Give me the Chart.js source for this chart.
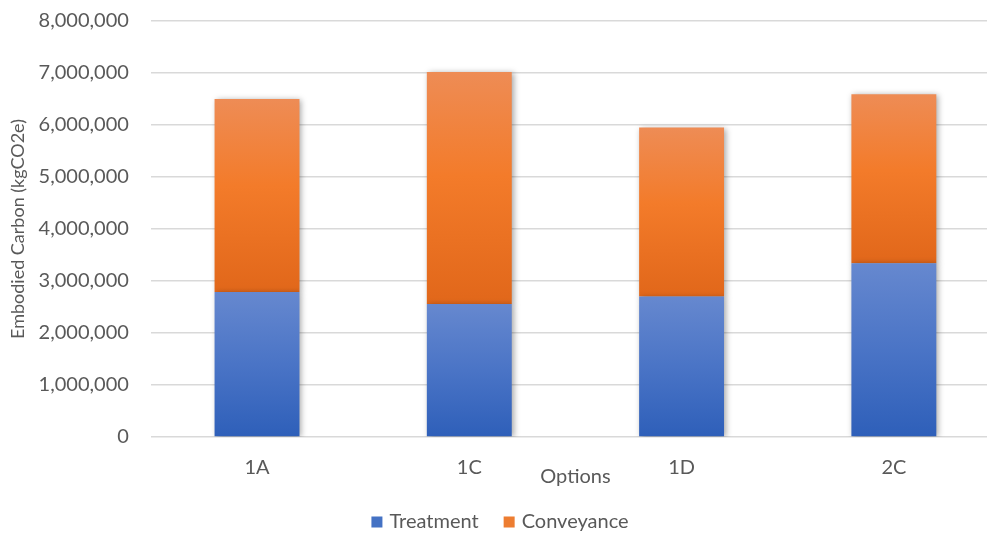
<!DOCTYPE html>
<html>
<head>
<meta charset="utf-8">
<title>Embodied Carbon by Option</title>
<script src="https://cdn.jsdelivr.net/npm/chart.js@4/dist/chart.umd.min.js"></script>
<style>
  html, body { margin: 0; padding: 0; background: #ffffff; overflow: hidden; }
  #wrap { position: absolute; left: 0; top: 0; width: 1000px; height: 533px; }
</style>
</head>
<body>
<div id="wrap"><canvas id="chart" width="1000" height="533"></canvas></div>
<script>
// Options compared
const categories = ['1A', '1C', '1D', '2C'];
// Embodied carbon per option, kgCO2e
const treatment  = [2790000, 2560000, 2700000, 3340000];
const conveyance = [3710000, 4460000, 3250000, 3250000];
// Value axis ticks
const yTicks = [0, 1000000, 2000000, 3000000, 4000000, 5000000, 6000000, 7000000, 8000000];

const TEXT = '#595959';
const FONT = 'Lato, "Open Sans", sans-serif';
const SWATCH = ['#4472c4', '#ed7d31'];

// Vertical gradient spanning one stacked segment
function segmentFill(stops, solid, lowerOf, upperOf) {
  return function (ctx) {
    if (ctx.type !== 'data') return solid;
    const chart = ctx.chart;
    const y = chart.scales && chart.scales.y;
    if (!chart.chartArea || !y) return solid;
    const i = ctx.dataIndex;
    const top = y.getPixelForValue(upperOf(i));
    const bottom = y.getPixelForValue(lowerOf(i));
    if (!isFinite(top) || !isFinite(bottom) || top === bottom) return solid;
    const g = chart.ctx.createLinearGradient(0, top, 0, bottom);
    stops.forEach(([p, c]) => g.addColorStop(p, c));
    return g;
  };
}

// Soft drop shadow behind the bars
const barShadow = {
  id: 'barShadow',
  beforeDatasetsDraw(chart) {
    const c = chart.ctx;
    c.save();
    c.shadowColor = 'rgba(0,0,0,0.35)';
    c.shadowBlur = 6;
    c.shadowOffsetX = 2;
    c.shadowOffsetY = 1;
  },
  afterDatasetsDraw(chart) {
    chart.ctx.restore();
  }
};

// Single-row legend along the bottom edge
const bottomLegend = {
  id: 'bottomLegend',
  afterDraw(chart) {
    const c = chart.ctx;
    const box = 11, gapText = 7, gapItem = 25;
    c.save();
    c.font = '20px ' + FONT;
    c.textBaseline = 'middle';
    c.textAlign = 'left';
    const items = chart.data.datasets.map((ds, i) => ({
      text: ds.label, color: SWATCH[i], w: c.measureText(ds.label).width
    }));
    const total = items.reduce((s, it) => s + box + gapText + it.w, 0) + gapItem * (items.length - 1);
    let x = chart.width / 2 - total / 2;
    const y = chart.height - 11;
    items.forEach(it => {
      c.fillStyle = it.color;
      c.fillRect(x, y - box / 2, box, box);
      x += box + gapText;
      c.fillStyle = TEXT;
      c.fillText(it.text, x, y);
      x += it.w + gapItem;
    });
    c.restore();
  }
};

new Chart(document.getElementById('chart'), {
  type: 'bar',
  data: {
    labels: categories,
    datasets: [
      {
        label: 'Treatment',
        data: treatment,
        backgroundColor: segmentFill(
          [[0, '#6688cf'], [0.5, '#4a74c6'], [1, '#2e5fb9']],
          SWATCH[0],
          () => 0,
          i => treatment[i]
        ),
        borderWidth: 0
      },
      {
        label: 'Conveyance',
        data: conveyance,
        backgroundColor: segmentFill(
          [[0, '#ee8c55'], [0.45, '#f37b2a'], [1, '#e1671a']],
          SWATCH[1],
          i => treatment[i],
          i => treatment[i] + conveyance[i]
        ),
        borderWidth: 0
      }
    ]
  },
  options: {
    responsive: false,
    animation: false,
    layout: { padding: { top: 21, left: 0, right: 0, bottom: 0 } },
    datasets: {
      bar: { categoryPercentage: 1.0, barPercentage: 0.4 }
    },
    scales: {
      x: {
        stacked: true,
        grid: { display: false },
        border: { display: false },
        ticks: { color: TEXT, font: { family: FONT, size: 20, lineHeight: 1.0 }, padding: 13 },
        title: {
          display: true,
          text: 'Options',
          color: TEXT,
          font: { family: FONT, size: 20, lineHeight: 1.0 },
          padding: { top: -24, bottom: 46 }
        }
      },
      y: {
        stacked: true,
        min: 0,
        max: 8000000,
        afterBuildTicks(axis) { axis.ticks = yTicks.map(v => ({ value: v })); },
        // invisible tick marks keep the labels clear of the plot
        grid: { color: '#d9d9d9', lineWidth: 1.5, drawTicks: true, tickLength: 22, tickColor: 'rgba(0,0,0,0)' },
        border: { display: false },
        ticks: {
          color: TEXT,
          font: { family: FONT, size: 20, lineHeight: 1.0 },
          padding: 0,
          callback: v => Number(v).toLocaleString('en-US')
        },
        title: {
          display: true,
          text: 'Embodied Carbon (kgCO2e)',
          color: TEXT,
          font: { family: FONT, size: 18 },
          padding: { top: 7, bottom: 10 }
        }
      }
    },
    plugins: {
      legend: { display: false },
      tooltip: { enabled: false }
    }
  },
  plugins: [barShadow, bottomLegend]
});
</script>
</body>
</html>
